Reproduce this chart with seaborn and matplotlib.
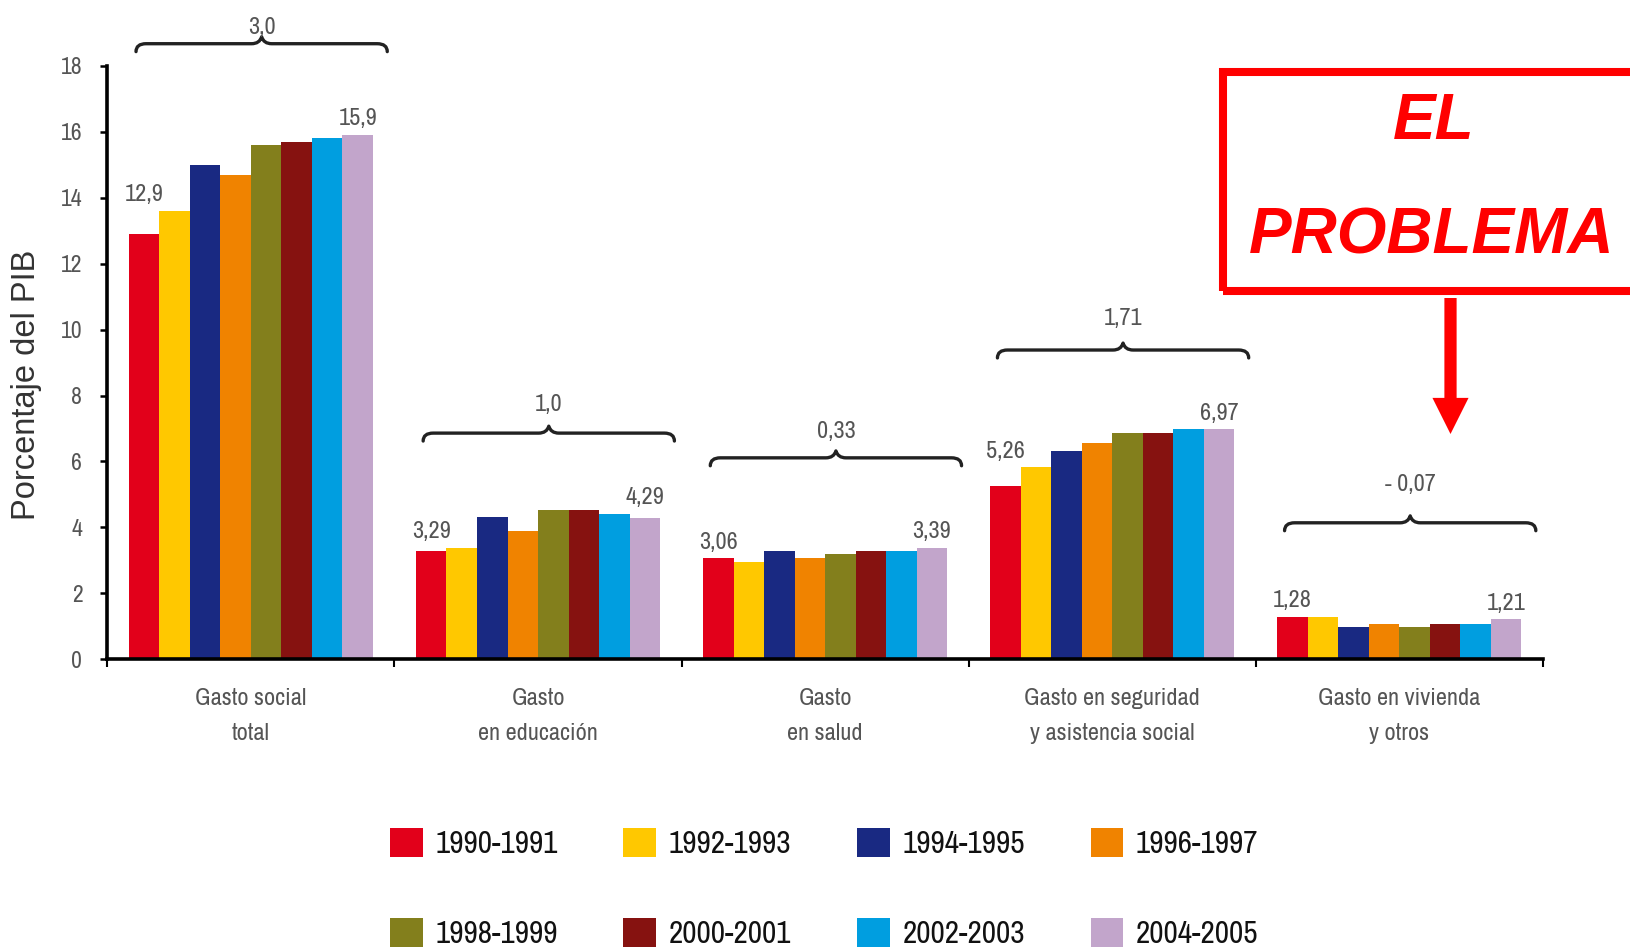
import numpy as np
import pandas as pd
import matplotlib
matplotlib.use("Agg")
import matplotlib.pyplot as plt
from matplotlib import font_manager
from matplotlib.patches import Rectangle, FancyArrowPatch, PathPatch
from matplotlib.path import Path
import seaborn as sns

# ---------------------------------------------------------------- data
categories = [
    "Gasto social\ntotal",
    "Gasto\nen educación",
    "Gasto\nen salud",
    "Gasto en seguridad\ny asistencia social",
    "Gasto en vivienda\ny otros",
]
periods = ["1990-1991", "1992-1993", "1994-1995", "1996-1997",
           "1998-1999", "2000-2001", "2002-2003", "2004-2005"]

gasto_total = [12.9, 13.6, 15.0, 14.7, 15.6, 15.7, 15.8, 15.9]
gasto_educacion = [3.29, 3.39, 4.33, 3.90, 4.53, 4.53, 4.41, 4.29]
gasto_salud = [3.06, 2.96, 3.27, 3.06, 3.18, 3.27, 3.27, 3.39]
gasto_seguridad = [5.26, 5.82, 6.33, 6.55, 6.85, 6.85, 6.97, 6.97]
gasto_vivienda = [1.28, 1.28, 0.97, 1.06, 0.97, 1.06, 1.06, 1.21]

# change between first and last period, shown over each group
variation_labels = ["3,0", "1,0", "0,33", "1,71", "- 0,07"]
brace_levels = [18.67, 6.86, 6.11, 9.38, 4.14]
variation_offsets = [7, 16, 14, 18, 23]  # points above the brace

yticks = [0, 2, 4, 6, 8, 10, 12, 14, 16, 18]

palette = ["#E2001A", "#FFC800", "#192982", "#F08300",
           "#837F1C", "#861210", "#009EE0", "#C2A5CB"]


# ---------------------------------------------------------------- fonts
def pick_narrow_font():
    entries = font_manager.fontManager.ttflist

    def regular(f):
        return f.style == "normal" and str(f.weight) in ("400", "normal", "regular", "book")

    for key in ["Narrow", "Condensed"]:
        for f in entries:
            if key in f.name and regular(f):
                return f.name, "normal"
    for st in ["condensed", "semi-condensed", "extra-condensed"]:
        for f in entries:
            if str(f.stretch) == st and regular(f):
                return f.name, st
    return "Liberation Sans", "normal"


sns.set_theme(style="ticks")
narrow, narrow_stretch = pick_narrow_font()
plt.rcParams["font.family"] = [narrow, "DejaVu Sans"]
plt.rcParams["font.stretch"] = narrow_stretch

series = [gasto_total, gasto_educacion, gasto_salud, gasto_seguridad, gasto_vivienda]
df = pd.DataFrame(
    [(cat, per, val) for cat, vals in zip(categories, series)
     for per, val in zip(periods, vals)],
    columns=["categoria", "periodo", "valor"],
)

W, H = 1630, 948
fig = plt.figure(figsize=(W / 100, H / 100), dpi=100)
fig.patch.set_facecolor("white")
ax = fig.add_axes([107.3 / W, 1 - 659.3 / H, (1543 - 107.3) / W, (659.3 - 65.8) / H])

sns.barplot(data=df, x="categoria", y="valor", hue="periodo",
            order=categories, hue_order=periods, palette=palette,
            saturation=1, width=0.85, errorbar=None, linewidth=0, ax=ax)

handles, labels = ax.get_legend_handles_labels()
if ax.get_legend() is not None:
    ax.get_legend().remove()

ax.set_xlim(-0.5, len(categories) - 0.5)
ax.set_ylim(0, 18)
ax.set_facecolor("white")
for s in ["top", "right"]:
    ax.spines[s].set_visible(False)
for s in ["left", "bottom"]:
    ax.spines[s].set_linewidth(2.6)
    ax.spines[s].set_color("black")

tick_grey = "#555555"
ax.set_yticks(yticks)
ax.set_yticklabels([str(t) for t in yticks])
ax.tick_params(axis="y", length=5, width=1.8, color="black", direction="out",
               pad=13, labelsize=17, labelcolor=tick_grey)

# group boundaries carry the ticks, group names sit between them
ax.set_xticks(np.arange(-0.5, len(categories)), labels=[""] * (len(categories) + 1))
ax.set_xticks(np.arange(len(categories)), labels=categories, minor=True)
ax.tick_params(axis="x", which="major", length=6, width=1.5, color="black", direction="out")
ax.tick_params(axis="x", which="minor", length=0, pad=21, labelsize=17.5,
               labelcolor=tick_grey)
for lab in ax.get_xticklabels(minor=True):
    lab.set_linespacing(1.8)
ax.set_xlabel("")

ax.set_ylabel("Porcentaje del PIB", fontsize=23.5, color="#333333",
              family=["Liberation Sans", "DejaVu Sans"], fontstretch="normal")
ax.yaxis.label.set_va("center")
ax.yaxis.set_label_coords(-0.056, 0.463)


def fmt(v):
    return f"{v:.2f}".rstrip("0").replace(".", ",")


# value labels on the first and last period of every group
first, second = ax.containers[0], ax.containers[1]
last, before_last = ax.containers[-1], ax.containers[-2]
for cont, neigh in [(first, second), (last, before_last)]:
    for bar, nb in zip(cont.patches, neigh.patches):
        h = bar.get_height()
        top = max(h, nb.get_height())
        ax.text(bar.get_x() + bar.get_width() / 2, top + 0.3, fmt(h),
                ha="center", va="baseline", fontsize=17.5, color=tick_grey)


def brace(ax, x0, x1, y, drop=0.24, rise=0.21, hook=0.035):
    xm = (x0 + x1) / 2
    verts = [(x0, y - drop), (x0, y), (x0 + hook, y),
             (xm - hook, y), (xm - hook * 0.2, y), (xm, y + rise),
             (xm + hook * 0.2, y), (xm + hook, y),
             (x1 - hook, y), (x1, y), (x1, y - drop)]
    codes = [Path.MOVETO, Path.CURVE3, Path.CURVE3,
             Path.LINETO, Path.CURVE3, Path.CURVE3,
             Path.CURVE3, Path.CURVE3,
             Path.LINETO, Path.CURVE3, Path.CURVE3]
    patch = PathPatch(Path(verts, codes), fill=False, lw=2.4, ec="#222222",
                      capstyle="round", joinstyle="round", clip_on=False)
    ax.add_patch(patch)
    return xm


for i, (lvl, txt, off) in enumerate(zip(brace_levels, variation_labels, variation_offsets)):
    xm = brace(ax, i - 0.40, i + 0.475, lvl)
    ax.annotate(txt, (xm, lvl), xytext=(0, off), textcoords="offset points",
                ha="center", va="baseline", fontsize=17.5, color=tick_grey,
                annotation_clip=False)

# legend in two rows of four, filled row by row
ncol = 4
nrow = int(np.ceil(len(handles) / ncol))
order = [r * ncol + c for c in range(ncol) for r in range(nrow)]
fig.legend([handles[k] for k in order], [labels[k] for k in order],
           ncol=ncol, loc="upper left",
           bbox_to_anchor=(390 / W, 1 - 828 / H), frameon=False,
           fontsize=22.5, handlelength=1.05, handleheight=1.05,
           handletextpad=0.4, columnspacing=2.1, labelspacing=1.9,
           borderpad=0, borderaxespad=0, labelcolor="#111111")

# callout box with arrow
box = Rectangle((1223.3 / W, 1 - 290.8 / H), 0.4, (290.8 - 72.2) / H,
                transform=fig.transFigure, fill=False, ec="#FF0000", lw=5.8)
fig.patches.append(box)
callout = dict(family=["Liberation Sans", "DejaVu Sans"], weight="bold",
               style="italic", stretch="normal", color="#FF0000", fontsize=46,
               ha="center", va="center")
fig.text(1433.5 / W, 1 - 122 / H, "EL", **callout)
fig.text(1432 / W, 1 - 236 / H, "PROBLEMA", **callout)
arrow = FancyArrowPatch((1450.5 / W, 1 - 298 / H), (1450.5 / W, 1 - 434 / H),
                        transform=fig.transFigure, shrinkA=0, shrinkB=0,
                        arrowstyle="simple,head_width=2.6,head_length=2.6,tail_width=0.88",
                        mutation_scale=10, color="#FF0000", lw=0)
fig.patches.append(arrow)

fig.savefig("out.png", dpi=100, facecolor="white")
